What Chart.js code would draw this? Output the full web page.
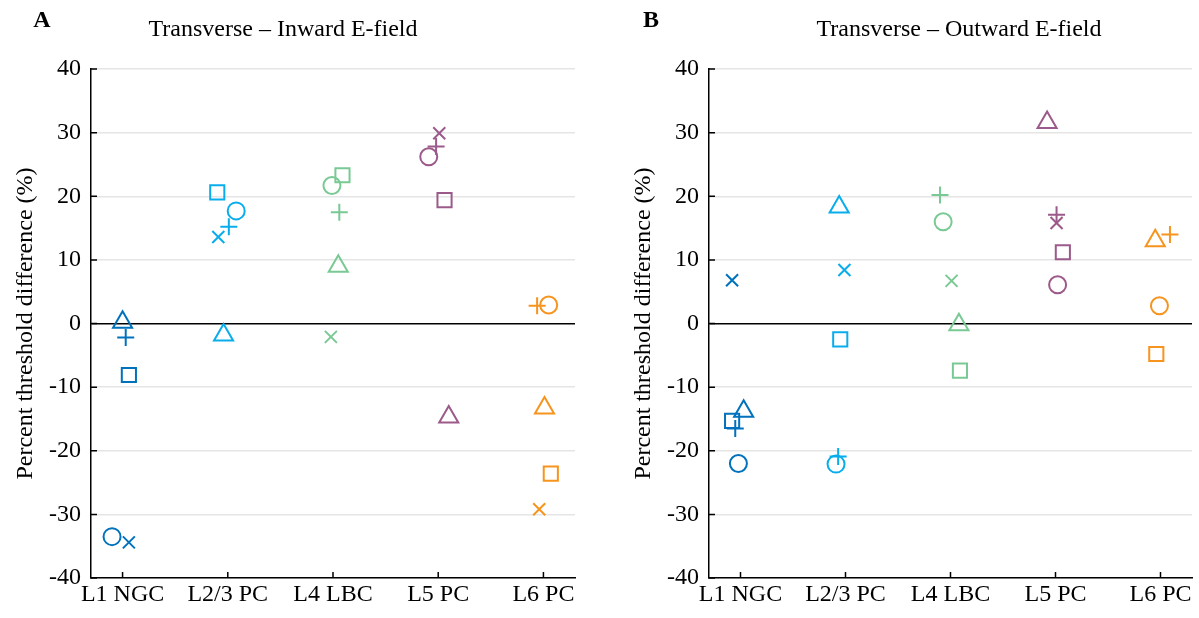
<!DOCTYPE html>
<html>
<head>
<meta charset="utf-8">
<script src="https://cdn.jsdelivr.net/npm/chart.js@4"></script>
<style>
  body { margin: 0; background: #fff; width: 1199px; height: 618px; position: relative; overflow: hidden; }
  canvas { position: absolute; top: 0; }
</style>
</head>
<body>
<canvas id="inward" width="600" height="618" style="left:0"></canvas>
<canvas id="outward" width="600" height="618" style="left:618px"></canvas>
<script>
// cell types along the x axis
const categories = ['L1 NGC', 'L2/3 PC', 'L4 LBC', 'L5 PC', 'L6 PC'];
// marker order inside every cell type: circle, x, plus, triangle, square
const markers = ['circle', 'crossRot', 'cross', 'triangle', 'rect'];

// Panel A - inward E-field (y = % threshold difference, x = position)
const inwardL1Y = [-33.5, -34.4, -2.2, 0.2, -8.1];
const inwardL1X = [0.90, 1.06, 1.03, 1.00, 1.06];
const inwardL23Y = [17.7, 13.6, 15.2, -1.8, 20.6];
const inwardL23X = [2.08, 1.91, 2.01, 1.96, 1.90];
const inwardL4Y = [21.7, -2.1, 17.5, 9.0, 23.3];
const inwardL4X = [2.99, 2.98, 3.06, 3.05, 3.09];
const inwardL5Y = [26.2, 29.9, 27.8, -14.7, 19.4];
const inwardL5X = [3.91, 4.01, 3.98, 4.10, 4.06];
const inwardL6Y = [2.9, -29.2, 2.8, -13.3, -23.6];
const inwardL6X = [5.05, 4.96, 4.94, 5.01, 5.07];

// Panel B - outward E-field
const outwardL1Y = [-22.0, 6.8, -16.5, -13.8, -15.3];
const outwardL1X = [0.98, 0.92, 0.95, 1.03, 0.92];
const outwardL23Y = [-22.1, 8.4, -20.9, 18.3, -2.5];
const outwardL23X = [1.91, 1.99, 1.93, 1.94, 1.95];
const outwardL4Y = [16.0, 6.7, 20.2, -0.2, -7.4];
const outwardL4X = [2.93, 3.01, 2.90, 3.08, 3.09];
const outwardL5Y = [6.1, 15.8, 17.1, 31.6, 11.2];
const outwardL5X = [4.02, 4.01, 4.01, 3.92, 4.07];
const outwardL6Y = [2.8, null, 14.0, 13.0, -4.8];
const outwardL6X = [4.99, 5.00, 5.09, 4.95, 4.96];

const yTicks = [-40, -30, -20, -10, 0, 10, 20, 30, 40];

const colors = ['#0072BD', '#0AADEB', '#79C994', '#9B5A8A', '#F7941E'];
const markerSizes = [8.5, 8.5, 8.5, 11, 10];
const serif = '"Liberation Serif", "Times New Roman", serif';

Chart.defaults.font.family = serif;
Chart.defaults.font.size = 24;
Chart.defaults.color = '#000';

// inward-pointing ticks, panel letter and title
const decor = {
  id: 'decor',
  afterDraw(chart, args, opts) {
    const {ctx, chartArea: a, scales: {x, y}} = chart;
    ctx.save();
    ctx.strokeStyle = '#000';
    ctx.lineWidth = 1.5;
    ctx.beginPath();
    y.ticks.forEach(t => {
      const py = y.getPixelForValue(t.value);
      ctx.moveTo(a.left, py);
      ctx.lineTo(a.left + 6, py);
    });
    x.ticks.forEach(t => {
      const px = x.getPixelForValue(t.value);
      ctx.moveTo(px, a.bottom);
      ctx.lineTo(px, a.bottom - 6);
    });
    ctx.stroke();
    ctx.fillStyle = '#000';
    ctx.textAlign = 'center';
    ctx.textBaseline = 'middle';
    ctx.font = 'bold 24px ' + serif;
    ctx.fillText(opts.letter, opts.letterX, 21);
    ctx.font = '24px ' + serif;
    ctx.fillText(opts.title, opts.titleX, 30);
    ctx.restore();
  }
};

function makeChart(id, xs, ys, letter, letterX, title, titleX, padRight) {
  const datasets = categories.map((c, i) => ({
    label: c,
    data: xs[i].map((xv, j) => ({x: xv, y: ys[i][j]})),
    pointStyle: markers,
    pointRadius: markerSizes,
    pointHoverRadius: markerSizes,
    pointBorderWidth: 2,
    borderColor: colors[i],
    backgroundColor: 'rgba(0,0,0,0)',
    showLine: false
  }));

  return new Chart(document.getElementById(id), {
    type: 'scatter',
    data: {datasets: datasets},
    plugins: [decor],
    options: {
      responsive: false,
      animation: false,
      layout: {padding: {top: 69, right: padRight, bottom: 0, left: 0}},
      plugins: {
        legend: {display: false},
        tooltip: {enabled: false},
        decor: {letter: letter, letterX: letterX, title: title, titleX: titleX}
      },
      scales: {
        x: {
          type: 'linear',
          min: 0.7,
          max: 5.3,
          afterBuildTicks: s => { s.ticks = [1, 2, 3, 4, 5].map(v => ({value: v})); },
          afterFit: s => { s.height = 40; },
          ticks: {
            callback: v => categories[v - 1],
            autoSkip: false,
            maxRotation: 0,
            padding: 2
          },
          grid: {display: false, drawTicks: false},
          border: {color: '#000', width: 1.5}
        },
        y: {
          min: -40,
          max: 40,
          afterBuildTicks: s => { s.ticks = yTicks.map(v => ({value: v})); },
          afterFit: s => { s.width = 91; },
          ticks: {padding: 10},
          grid: {
            drawTicks: false,
            lineWidth: 1.5,
            color: c => c.tick && c.tick.value === 0 ? '#000' : '#e5e5e5'
          },
          border: {color: '#000', width: 1.5},
          title: {
            display: true,
            text: 'Percent threshold difference (%)',
            padding: {top: 11, bottom: 0}
          }
        }
      }
    }
  });
}

makeChart('inward',
  [inwardL1X, inwardL23X, inwardL4X, inwardL5X, inwardL6X],
  [inwardL1Y, inwardL23Y, inwardL4Y, inwardL5Y, inwardL6Y],
  'A', 42, 'Transverse \u2013 Inward E-field', 283, 25);

makeChart('outward',
  [outwardL1X, outwardL23X, outwardL4X, outwardL5X, outwardL6X],
  [outwardL1Y, outwardL23Y, outwardL4Y, outwardL5Y, outwardL6Y],
  'B', 33, 'Transverse \u2013 Outward E-field', 341, 26);
</script>
</body>
</html>
